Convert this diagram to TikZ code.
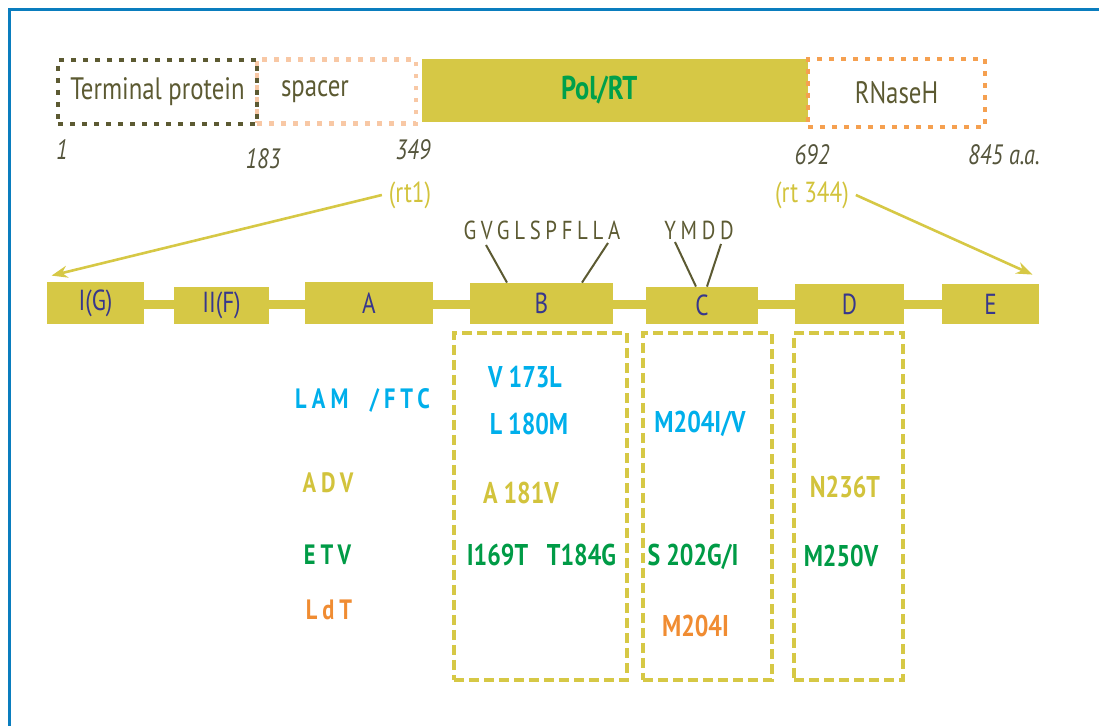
\documentclass[tikz,border=0pt]{standalone}
\usepackage{fontspec}
\setmainfont{PT Sans}[FakeStretch=0.8]
\newfontfamily\spacedfont{PT Sans}[FakeStretch=0.8,LetterSpace=18]
\usetikzlibrary{arrows.meta,positioning}

\definecolor{framec}{RGB}{10,125,190}
\definecolor{polc}{RGB}{214,200,69}
\definecolor{tpc}{RGB}{92,90,50}
\definecolor{spc}{RGB}{248,200,165}
\definecolor{rnhc}{RGB}{245,160,80}
\definecolor{polgreen}{RGB}{0,160,75}
\definecolor{lamc}{RGB}{0,175,235}
\definecolor{etvc}{RGB}{0,155,70}
\definecolor{ldtc}{RGB}{240,140,50}
\definecolor{advc}{RGB}{210,195,60}
\definecolor{domc}{RGB}{55,55,140}
\definecolor{numc}{RGB}{85,85,60}

\begin{document}
\begin{tikzpicture}[x=0.5pt, y=-0.5pt, font=\fontsize{15.5}{17}\selectfont,
    dotbox/.style={line width=2.3pt, dash pattern=on 2.3pt off 3.7pt,
      inner sep=0pt, minimum height=32pt, text=tpc},
    subdom/.style={fill=polc, text=domc, inner sep=0pt,
      font=\fontsize{14.5}{16}\selectfont},
    mutbox/.style={draw=polc, line width=1.7pt, dash pattern=on 5pt off 2.5pt,
      inner sep=0pt, minimum height=173.5pt},
    mut/.style={font=\fontsize{15}{17}\selectfont\bfseries},
    drug/.style={font=\spacedfont\fontsize{14}{16}\selectfont\bfseries},
    posnum/.style={text=numc, font=\fontsize{14}{16}\selectfont\itshape},
    rtlabel/.style={text=advc, font=\fontsize{14.5}{16}\selectfont},
    motif/.style={text=tpc, font=\spacedfont\fontsize{13}{15}\selectfont},
    zoomarrow/.style={draw=polc, line width=1.3pt, -{Stealth[length=8pt,width=6pt]}},
    motifline/.style={draw=tpc, line width=1pt},
    barlink/.style={draw=polc, line width=4.75pt} ]

    \useasboundingbox (0,0) rectangle (1099,726);
    \draw[framec, line width=1.5pt] (9,726) -- (9,10) -- (1099,10);

    % protein domains
    \node[dotbox, draw=spc, text width=55.5pt, align=left, inner xsep=12pt]
      (sp) at (336.5,91.5) {spacer};
    \node[dotbox, draw=tpc, minimum width=99.5pt] (tp) at (157.5,92)
      {Terminal protein};
    \node[fill=polc, minimum height=31.5pt, inner ysep=0pt, inner xsep=69.5pt,
      text width=54pt, align=left, text=polgreen, font=\fontsize{16.5}{18}\selectfont\bfseries]
      (pol) at (615,90.5) {Pol/RT};
    \node[dotbox, draw=rnhc, minimum width=88.5pt, minimum height=34pt]
      (rnh) at (896.5,93) {RNaseH};

    \node[posnum] (n1) at (62,150) {1};
    \node[posnum] (n183) at (263,159) {183};
    \node[posnum] (n349) at (413,150) {349};
    \node[posnum] (n692) at (812,155) {692};
    \node[posnum] (n845) at (1004,155) {845 a.a.};
    \node[rtlabel] (rt1) at (410,195) {(rt1)};
    \node[rtlabel] (rt344) at (812,195) {(rt 344)};

    % RT subdomains
    \node[subdom, minimum width=48.5pt, minimum height=21pt] (ig) at (95.5,303) {I(G)};
    \node[subdom, minimum width=47.5pt, minimum height=18.5pt] (iif) at (221.5,305.5) {II(F)};
    \node[subdom, minimum width=64pt, minimum height=21pt] (da) at (369,303) {A};
    \node[subdom, minimum width=71.5pt, minimum height=20.5pt] (db) at (541.5,303.5) {B};
    \node[subdom, minimum width=56pt, minimum height=18.5pt] (dc) at (702,305.5) {C};
    \node[subdom, minimum width=54.5pt, minimum height=20pt] (dd) at (849.5,304) {D};
    \node[subdom, minimum width=48.5pt, minimum height=20pt] (de) at (990.5,304) {E};

    \coordinate (barline) at (0,304.5);
    \foreach \a/\b in {ig/iif,iif/da,da/db,db/dc,dc/dd,dd/de}
      \draw[barlink] (\a.east |- barline) -- (\b.west |- barline);

    \draw[zoomarrow] (rt1.west) -- ([shift={(5,-6)}]ig.north west);
    \draw[zoomarrow] (rt344.east) -- ([shift={(-7,-9)}]de.north east);

    \node[motif] (gv) at (542,230) {GVGLSPFLLA};
    \node[motif] (ym) at (699,230) {YMDD};
    \draw[motifline] ([shift={(-56,15)}]gv.center) -- ([shift={(-34.5,0)}]db.north);
    \draw[motifline] ([shift={(66,13)}]gv.center) -- ([shift={(40.5,0)}]db.north);
    \draw[motifline] ([shift={(-24,12)}]ym.center) -- ([shift={(-6,0)}]dc.north);
    \draw[motifline] ([shift={(22,14)}]ym.center) -- ([shift={(5,0)}]dc.north);

    % resistance mutations
    \node[mutbox, minimum width=86.5pt] (bbox) at (540.5,506.5) {};
    \node[mutbox, minimum width=64.5pt] (cbox) at (707.5,506.5) {};
    \node[mutbox, minimum width=54.5pt] (dbox) at (848.5,506.5) {};

    \node[drug, text=lamc] (lam) at (362.5,400) {LAM~~/FTC};
    \node[drug, text=advc] (adv) at (328,483) {ADV};
    \node[drug, text=etvc] (etv) at (327.5,555) {ETV};
    \node[drug, text=ldtc] (ldt) at (329,610) {LdT};

    \node[mut, text=lamc] (v173l) at (525,377) {V 173L};
    \node[mut, text=lamc] (l180m) at (529,424) {L 180M};
    \node[mut, text=advc] (a181v) at (521,493) {A 181V};
    \node[mut, text=etvc] (i169t) at (497.5,555) {I169T};
    \node[mut, text=etvc] (t184g) at (581.5,555) {T184G};
    \node[mut, text=lamc] (m204iv) at (700,424) {M204I/V};
    \node[mut, text=etvc] (s202gi) at (693,557) {S 202G/I};
    \node[mut, text=ldtc] (m204i) at (695.5,626) {M204I};
    \node[mut, text=advc] (n236t) at (845,487) {N236T};
    \node[mut, text=etvc] (m250v) at (841,556) {M250V};

  \end{tikzpicture}
\end{document}
